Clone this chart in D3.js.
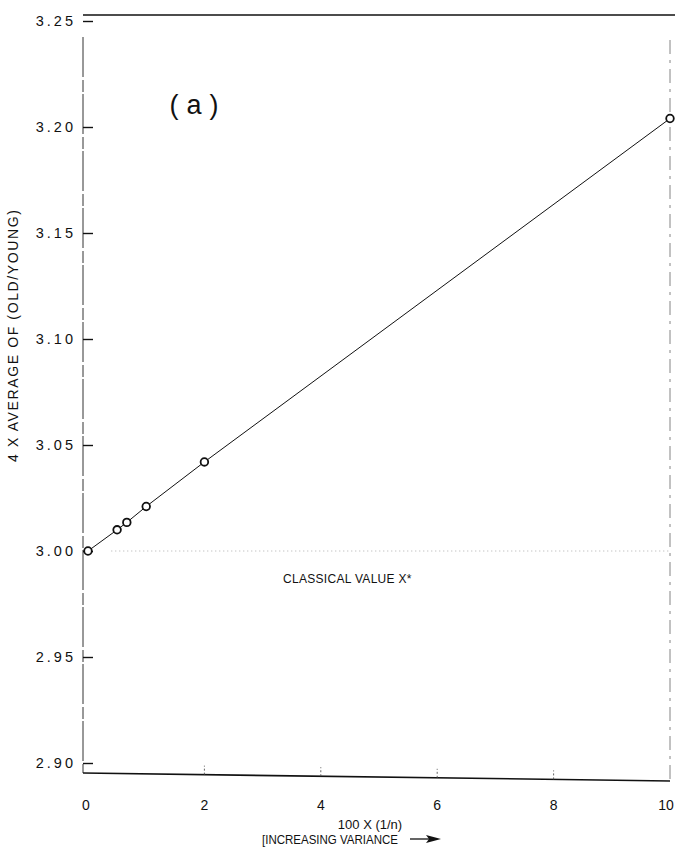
<!DOCTYPE html>
<html>
<head>
<meta charset="utf-8">
<script src="https://cdn.jsdelivr.net/npm/d3@7"></script>
<style>
  html, body { margin: 0; padding: 0; background: #fff; }
  svg { display: block; }
  text { font-family: "Liberation Sans", Arial, sans-serif; fill: #111; }
</style>
</head>
<body>
<svg id="chart" width="675" height="868"></svg>
<script>
// Inverse-sample-size values (100 × 1/n) and the resulting ratio estimate
const xValues = [0, 0.5, 0.667, 1, 2, 10];
const yValues = [3.000, 3.010, 3.0135, 3.021, 3.042, 3.204];

const xTicks = [0, 2, 4, 6, 8, 10];
const yTicks = [2.90, 2.95, 3.00, 3.05, 3.10, 3.15, 3.20, 3.25];
const classicalValue = 3.00;

const svg = d3.select("#chart");

const x = d3.scaleLinear().domain([0, 10]).range([88, 670]);
const y = d3.scaleLinear().domain([2.90, 3.25]).range([763, 21]);

const frameLeft = 83, frameRight = 670, frameTop = 15;
// the bottom border drifts down slightly toward the right
const bottomAt = d3.scaleLinear().domain([frameLeft, frameRight]).range([773, 781]);

// frame: left axis, top border, right border, bottom axis
svg.append("line").attr("x1", frameLeft).attr("x2", frameLeft).attr("y1", frameTop + 22).attr("y2", bottomAt(frameLeft))
  .attr("stroke", "#333").attr("stroke-width", 1).attr("stroke-dasharray", "40,3,12,2");
svg.append("line").attr("x1", frameLeft).attr("x2", 675).attr("y1", frameTop).attr("y2", frameTop)
  .attr("stroke", "#111").attr("stroke-width", 1.6);
svg.append("line").attr("x1", frameRight).attr("x2", frameRight).attr("y1", frameTop + 25).attr("y2", bottomAt(frameRight))
  .attr("stroke", "#777").attr("stroke-width", 0.9).attr("stroke-dasharray", "14,6,3,6");
svg.append("line").attr("x1", frameLeft).attr("x2", frameRight)
  .attr("y1", bottomAt(frameLeft)).attr("y2", bottomAt(frameRight))
  .attr("stroke", "#111").attr("stroke-width", 1.6);

// y axis: ticks inside the frame, labels on the left
const yAxis = d3.axisRight(y).tickValues(yTicks).tickSize(10).tickFormat("");
const gy = svg.append("g").attr("transform", `translate(${frameLeft},0)`).call(yAxis);
gy.select(".domain").remove();
gy.selectAll(".tick line").attr("stroke", "#111").attr("stroke-width", 1.4);

svg.append("g").selectAll("text").data(yTicks).join("text")
  .attr("x", 76).attr("y", d => y(d)).attr("dy", "0.35em")
  .attr("text-anchor", "end")
  .style("font-size", "14.5px").style("letter-spacing", "3px")
  .text(d => d.toFixed(2));

// x axis: short ticks rising from the bottom border
svg.append("g").selectAll("line").data(xTicks.slice(1, 5)).join("line")
  .attr("x1", d => x(d)).attr("x2", d => x(d))
  .attr("y1", d => bottomAt(x(d))).attr("y2", d => bottomAt(x(d)) - 9)
  .attr("stroke", "#555").attr("stroke-width", 0.9).attr("stroke-dasharray", "2,2");

svg.append("g").selectAll("text").data(xTicks).join("text")
  .attr("x", d => x(d) - (d === 0 ? 2 : d === 10 ? 4 : 0)).attr("y", 805).attr("dy", "0.35em")
  .attr("text-anchor", "middle")
  .style("font-size", "14px")
  .text(d => d);

// classical reference value
svg.append("line")
  .attr("x1", x(0.4)).attr("x2", frameRight).attr("y1", y(classicalValue)).attr("y2", y(classicalValue))
  .attr("stroke", "#999").attr("stroke-width", 0.8).attr("stroke-dasharray", "1,3");
svg.append("text").attr("x", 283).attr("y", 583)
  .style("font-size", "12px").style("letter-spacing", "0.3px")
  .text("CLASSICAL VALUE X*");

// fitted line and data points
const pts = xValues.map((v, i) => [v, yValues[i]]);
svg.append("path").datum(pts)
  .attr("d", d3.line().x(d => x(d[0])).y(d => y(d[1])))
  .attr("fill", "none").attr("stroke", "#111").attr("stroke-width", 1);
svg.append("g").selectAll("circle").data(pts).join("circle")
  .attr("cx", d => x(d[0])).attr("cy", d => y(d[1])).attr("r", 3.8)
  .attr("fill", "#fff").attr("stroke", "#111").attr("stroke-width", 1.8);

// panel tag
svg.append("text").attr("x", 198).attr("y", 114).attr("text-anchor", "middle")
  .style("font-size", "27px").style("letter-spacing", "8px")
  .text("(a)");

// axis titles
svg.append("text")
  .attr("transform", "translate(13,336) rotate(-90)")
  .attr("text-anchor", "middle").attr("dy", "0.35em")
  .attr("textLength", 252).attr("lengthAdjust", "spacing")
  .style("font-size", "14px")
  .text("4 X AVERAGE OF (OLD/YOUNG)");

svg.append("text").attr("x", 370).attr("y", 829).attr("text-anchor", "middle")
  .style("font-size", "13px")
  .text("100 X (1/n)");
svg.append("text").attr("x", 262).attr("y", 844)
  .attr("textLength", 136).attr("lengthAdjust", "spacingAndGlyphs")
  .style("font-size", "13.5px")
  .text("[INCREASING VARIANCE");
// arrow after the title
svg.append("line").attr("x1", 410).attr("x2", 432).attr("y1", 839).attr("y2", 839)
  .attr("stroke", "#111").attr("stroke-width", 1.3);
svg.append("path").attr("d", "M426,835 L441,839 L426,843 L429,839 Z").attr("fill", "#111");
</script>
</body>
</html>
